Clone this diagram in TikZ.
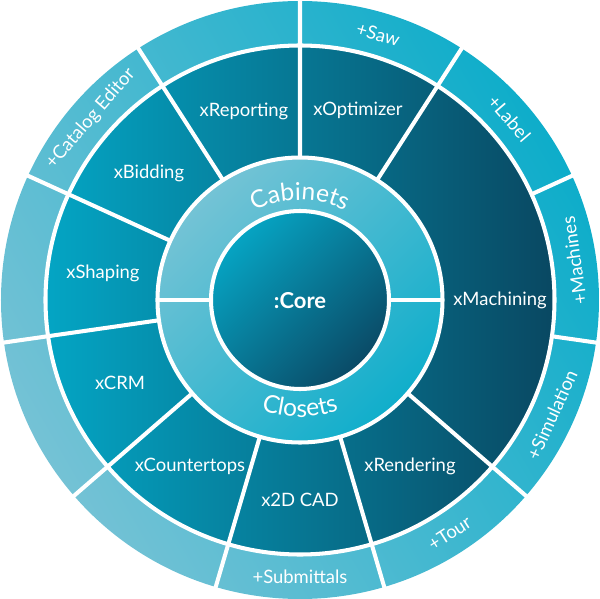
\documentclass[tikz,border=0pt]{standalone}
\usepackage{fontspec}
\setmainfont{Lato}
\usetikzlibrary{decorations.text}

\definecolor{coreLight}{HTML}{06A4C3}
\definecolor{coreDark}{HTML}{0A4A66}
\definecolor{ringLight}{HTML}{74C3D5}
\definecolor{ringBright}{HTML}{10AECB}
\definecolor{modLight}{HTML}{04A5C4}
\definecolor{modDark}{HTML}{094862}
\definecolor{addPale}{HTML}{74C2D5}
\definecolor{addBright}{HTML}{0EADCA}

\tikzset{
  gap/.style={white, line width=2.3pt},
  modlabel/.style={text=white, font=\fontsize{10.5}{12}\selectfont},
  addlabel/.style={text=white, font=\fontsize{10.5}{12}\selectfont},
}

\begin{document}
\begin{tikzpicture}[x=0.02cm, y=0.02cm]
    \useasboundingbox (-300,-299) rectangle (300,300);

    \shade[top color=addBright, bottom color=addPale, shading angle=-60] (0,0) circle[radius=299];
    \shade[top color=modLight, bottom color=modDark, shading angle=90] (0,0) circle[radius=254];
    \shade[top color=ringLight, bottom color=ringBright, shading angle=45] (0,0) circle[radius=142];
    \shade[top color=coreLight, bottom color=coreDark, shading angle=45] (0,0) circle[radius=89];

    % white gaps
    \draw[gap] (0,0) circle[radius=89];
    \draw[gap] (0,0) circle[radius=142.5];
    \draw[gap] (0,0) circle[radius=254.5];
    \draw[gap] (89,0) -- (142,0) (-89,0) -- (-142,0);
    \foreach \k in {0,...,8}
        \draw[gap] ({57.27+32.727*\k}:142) -- ({57.27+32.727*\k}:254);
    \foreach \k in {0,...,10}
        \draw[gap] ({57.27+32.727*\k}:254) -- ({57.27+32.727*\k}:300);

    \node[text=white, font=\fontsize{12.5}{14}\bfseries] (core) at (0,-1) {:Core};
    \path[decorate, decoration={text along path, text align=center, text color=white,
        text={|\fontsize{14}{14}\selectfont|Cabinets}}]
        (160:100) arc[start angle=160, end angle=20, radius=100];
    \path[decorate, decoration={text along path, text align=center, text color=white,
        text={|\fontsize{14}{14}\selectfont|Closets}}]
        (220:117) arc[start angle=220, end angle=320, radius=117];

    \node[modlabel] (optimizer) at (58,190) {xOptimizer};
    \node[modlabel] (reporting) at (-56,189) {xReporting};
    \node[modlabel] (bidding) at (-151,127) {xBidding};
    \node[modlabel] (shaping) at (-197,27) {xShaping};
    \node[modlabel] (crm) at (-180,-83) {xCRM};
    \node[modlabel] (countertops) at (-110,-166) {xCountertops};
    \node[modlabel] (cad) at (0,-200) {x2D CAD};
    \node[modlabel] (rendering) at (110,-166) {xRendering};
    \node[modlabel] (machining) at (200,0) {xMachining};

    \node[addlabel, rotate=-16.4] (saw) at (73.6:277) {+Saw};
    \node[addlabel, rotate=-49.1] (label) at (40.9:277) {+Label};
    \node[addlabel, rotate=98.2] (machines) at (8.2:277) {+Machines};
    \node[addlabel, rotate=65.5] (simulation) at (335.5:277) {+Simulation};
    \node[addlabel, rotate=32.7] (tour) at (302.7:277) {+Tour};
    \node[addlabel] (submittals) at (270:277) {+Submittals};
    \node[addlabel, rotate=49.1] (catalog) at (139.1:277) {+Catalog Editor};
\end{tikzpicture}
\end{document}
